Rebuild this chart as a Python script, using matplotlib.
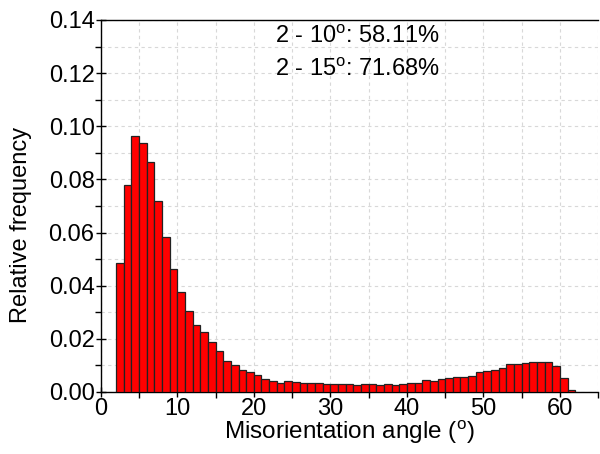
import matplotlib
matplotlib.use("Agg")
import matplotlib.pyplot as plt
import numpy as np
from matplotlib.ticker import MultipleLocator

plt.rcParams['font.family'] = ['Liberation Sans', 'DejaVu Sans']
plt.rcParams['mathtext.fontset'] = 'custom'
plt.rcParams['mathtext.rm'] = 'Liberation Sans'
plt.rcParams['mathtext.it'] = 'Liberation Sans'

bin_left = list(range(2, 62))
freq = [0.0484, 0.0779, 0.0963, 0.0938, 0.0866, 0.0720, 0.0583, 0.0464, 0.0376, 0.0306,
        0.0252, 0.0226, 0.0187, 0.0156, 0.0118, 0.0102, 0.0083, 0.0074, 0.0063, 0.0049,
        0.0043, 0.0034, 0.0041, 0.0038, 0.0034, 0.0034, 0.0034, 0.0029, 0.0029, 0.0029,
        0.0030, 0.0026, 0.0029, 0.0031, 0.0026, 0.0030, 0.0028, 0.0030, 0.0034, 0.0033,
        0.0046, 0.0041, 0.0049, 0.0054, 0.0056, 0.0058, 0.0061, 0.0075, 0.0078, 0.0082,
        0.0089, 0.0107, 0.0107, 0.0109, 0.0112, 0.0112, 0.0113, 0.0098, 0.0053, 0.0006]
annotations = ["2 - 10$^\\mathrm{o}$: 58.11%", "2 - 15$^\\mathrm{o}$: 71.68%"]
xlabel = "Misorientation angle ($^\\mathrm{o}$)"
ylabel = "Relative frequency"

fig = plt.figure(figsize=(6.0, 4.54), dpi=100)
ax = fig.add_axes([0.168, 0.1366, 0.829, 0.8194])

ax.bar(bin_left, freq, width=1.0, align='edge', color='#ff0000',
       edgecolor='#222222', linewidth=0.9, zorder=3)

ax.set_xlim(0, 65)
ax.set_ylim(0, 0.14)
ax.xaxis.set_major_locator(MultipleLocator(10))
ax.xaxis.set_minor_locator(MultipleLocator(5))
ax.yaxis.set_major_locator(MultipleLocator(0.02))
ax.yaxis.set_minor_locator(MultipleLocator(0.01))
ax.yaxis.set_major_formatter(matplotlib.ticker.FormatStrFormatter('%.2f'))

ax.grid(True, which='both', linestyle=(0, (3, 3)), color='#d8d8d8', linewidth=0.8, zorder=0)
ax.set_axisbelow(True)

ax.spines['right'].set_visible(False)
for s in ['left', 'bottom', 'top']:
    ax.spines[s].set_linewidth(1.0)
    ax.spines[s].set_color('black')

ax.tick_params(which='major', direction='inout', length=7, width=1, labelsize=17, pad=1)
ax.tick_params(which='minor', direction='out', length=4, width=1)
ax.tick_params(top=False, right=False)

ax.set_xlabel(xlabel, fontsize=17.5, labelpad=-1)
ax.set_ylabel(ylabel, fontsize=17)
ax.yaxis.set_label_coords(-0.139, 0.45)

ax.text(33.5, 0.1336, annotations[0], fontsize=17, ha='center', va='center')
ax.text(33.5, 0.1212, annotations[1], fontsize=17, ha='center', va='center')

fig.savefig('out.png', dpi=100)
